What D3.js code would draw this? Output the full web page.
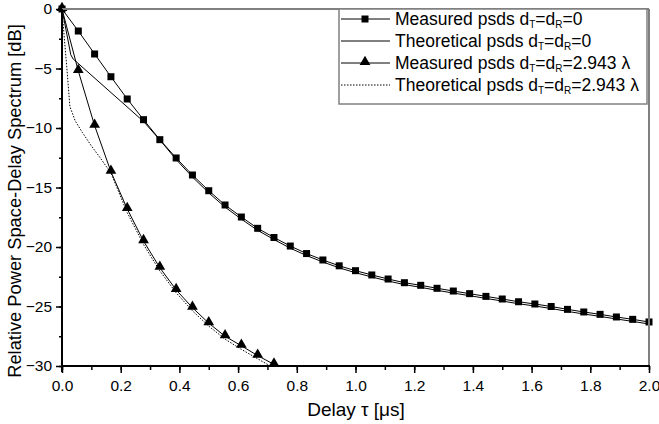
<!DOCTYPE html>
<html>
<head>
<meta charset="utf-8">
<script src="https://cdn.jsdelivr.net/npm/d3@7"></script>
<style>
  body { margin: 0; background: #fff; }
  text { font-family: "Liberation Sans", Arial, sans-serif; fill: #000; }
</style>
</head>
<body>
<svg id="chart" width="659" height="424"></svg>
<script>
// measured points sit on a 1/18 us grid
const measured0Y = [0, -1.85, -3.78, -5.69, -7.56, -9.3, -10.98, -12.52, -13.95, -15.27,
  -16.47, -17.48, -18.43, -19.2, -19.92, -20.55, -21.09, -21.58, -21.99, -22.35,
  -22.69, -23.0, -23.22, -23.47, -23.7, -23.92, -24.15, -24.37, -24.6, -24.79,
  -25.0, -25.24, -25.46, -25.66, -25.88, -26.08, -26.3];
const measured0X = measured0Y.map((d, i) => i / 18);

const theory0X = [0, 0.03, 0.038, 0.2778, 0.3333, 0.3889, 0.4444, 0.5, 0.5556, 0.6111,
  0.6667, 0.7222, 0.7778, 0.8333, 0.8889, 0.9444, 1.0, 1.0556, 1.1111, 1.1667,
  1.2222, 1.2778, 1.3333, 1.3889, 1.4444, 1.5, 1.5556, 1.6111, 1.6667, 1.7222,
  1.7778, 1.8333, 1.8889, 1.9444, 2.0];
const theory0Y = [0, -3.85, -4.2, -9.45, -11.0, -12.65, -14.12, -15.45, -16.65, -17.66,
  -18.6, -19.37, -20.1, -20.72, -21.26, -21.75, -22.16, -22.52, -22.86, -23.16,
  -23.39, -23.64, -23.87, -24.09, -24.32, -24.54, -24.77, -24.96, -25.17, -25.41,
  -25.63, -25.83, -26.05, -26.25, -26.47];

const measured2Y = [0, -5.21, -9.8, -13.67, -16.8, -19.5, -21.74, -23.6, -25.1, -26.4,
  -27.5, -28.3, -29.13, -29.86];
const measured2X = measured2Y.map((d, i) => i / 18);

const theory2X = [0, 0.008, 0.016, 0.027, 0.045, 0.07, 0.1, 0.13, 0.167, 0.222, 0.278,
  0.333, 0.389, 0.444, 0.5, 0.556, 0.611, 0.667, 0.71];
const theory2Y = [0, -2.5, -4.8, -8.2, -9.4, -10.4, -11.5, -12.5, -13.8, -17.1, -19.8,
  -22.0, -23.85, -25.35, -26.65, -27.75, -28.6, -29.4, -30];

const xTicks = [0, 0.2, 0.4, 0.6, 0.8, 1.0, 1.2, 1.4, 1.6, 1.8, 2.0];
const yTicks = [0, -5, -10, -15, -20, -25, -30];

const svg = d3.select("#chart");
const pLeft = 62, pRight = 649, pTop = 9, pBottom = 366;

const x = d3.scaleLinear().domain([0, 2]).range([pLeft, pRight]);
const y = d3.scaleLinear().domain([0, -30]).range([pTop, pBottom]);

const zip = (xs, ys) => xs.map((v, i) => [v, ys[i]]);
const line = d3.line().x(d => x(d[0])).y(d => y(d[1]));

const plot = svg.append("g");

plot.append("path").datum(zip(theory2X, theory2Y))
  .attr("d", line).attr("fill", "none").attr("stroke", "#000")
  .attr("stroke-width", 1).attr("stroke-dasharray", "1.5,1.5");

plot.append("path").datum(zip(theory0X, theory0Y))
  .attr("d", line).attr("fill", "none").attr("stroke", "#000").attr("stroke-width", 1);

plot.append("path").datum(zip(measured0X, measured0Y))
  .attr("d", line).attr("fill", "none").attr("stroke", "#000").attr("stroke-width", 1);

plot.append("path").datum(zip(measured2X, measured2Y))
  .attr("d", line).attr("fill", "none").attr("stroke", "#000").attr("stroke-width", 1);

const square = d3.symbol().type(d3.symbolSquare).size(49);
const triangle = d3.symbol().type(d3.symbolTriangle).size(50);

plot.selectAll(".sq").data(zip(measured0X, measured0Y)).enter().append("path")
  .attr("class", "sq").attr("d", square)
  .attr("transform", d => `translate(${x(d[0])},${y(d[1])})`);

plot.selectAll(".tri").data(zip(measured2X, measured2Y)).enter().append("path")
  .attr("class", "tri").attr("d", triangle)
  .attr("transform", d => `translate(${x(d[0])},${y(d[1]) - 1})`);

// frame: grey top/right
svg.append("line").attr("x1", pLeft).attr("x2", pRight).attr("y1", pTop).attr("y2", pTop)
  .attr("stroke", "#808080").attr("stroke-width", 2);
svg.append("line").attr("x1", pRight).attr("x2", pRight).attr("y1", pTop).attr("y2", pBottom)
  .attr("stroke", "#808080").attr("stroke-width", 2);

// x axis
const xAxis = svg.append("g").attr("transform", `translate(0,${pBottom})`);
xAxis.append("g")
  .call(d3.axisBottom(x).tickValues(d3.range(0, 2.001, 0.1)).tickSize(4).tickFormat(""))
  .call(g => g.select(".domain").remove())
  .call(g => g.selectAll("line").attr("stroke-width", 1.5));
xAxis.append("g")
  .call(d3.axisBottom(x).tickValues(xTicks).tickSize(7).tickFormat(d3.format(".1f")))
  .call(g => g.select(".domain").remove())
  .call(g => g.selectAll("line").attr("stroke-width", 1.5))
  .call(g => g.selectAll("text").attr("font-size", 15.5).attr("y", 11).attr("dy", "0.9em")
    .attr("font-family", "'Liberation Sans', Arial, sans-serif"));
svg.append("line").attr("x1", pLeft).attr("x2", pRight + 1).attr("y1", pBottom).attr("y2", pBottom)
  .attr("stroke", "#000").attr("stroke-width", 2);

// y axis
const yAxis = svg.append("g").attr("transform", `translate(${pLeft},0)`);
yAxis.append("g")
  .call(d3.axisLeft(y).tickValues(d3.range(0, -30.01, -2.5)).tickSize(3).tickFormat(""))
  .call(g => g.select(".domain").remove())
  .call(g => g.selectAll("line").attr("stroke-width", 1.5));
yAxis.append("g")
  .call(d3.axisLeft(y).tickValues(yTicks).tickSize(6).tickFormat(d3.format("d")))
  .call(g => g.select(".domain").remove())
  .call(g => g.selectAll("line").attr("stroke-width", 1.5))
  .call(g => g.selectAll("text").attr("font-size", 15.5).attr("x", -10)
    .attr("font-family", "'Liberation Sans', Arial, sans-serif"));
svg.append("line").attr("x1", pLeft).attr("x2", pLeft).attr("y1", pTop).attr("y2", pBottom + 6)
  .attr("stroke", "#000").attr("stroke-width", 2);

// axis titles
svg.append("text").attr("x", 356).attr("y", 416).attr("text-anchor", "middle")
  .attr("font-size", 19).text("Delay \u03c4 [\u03bcs]");
svg.append("text").attr("transform", "translate(21,201) rotate(-90)")
  .attr("text-anchor", "middle").attr("font-size", 18.3)
  .text("Relative Power Space-Delay Spectrum [dB]");

// legend
const legend = svg.append("g");
legend.append("rect").attr("x", 339).attr("y", 9).attr("width", 308).attr("height", 95)
  .attr("fill", "#fff").attr("stroke", "#808080").attr("stroke-width", 1.5);

const legendRows = [
  { label: "Measured psds", tail: "=0", marker: "sq", dash: null },
  { label: "Theoretical psds", tail: "=0", marker: null, dash: null },
  { label: "Measured psds", tail: "=2.943 \u03bb", marker: "tri", dash: null },
  { label: "Theoretical psds", tail: "=2.943 \u03bb", marker: null, dash: "1.5,1.5" }
];

legendRows.forEach((r, i) => {
  const row = legend.append("g").attr("transform", `translate(340,${19 + i * 22})`);
  row.append("line").attr("x1", 1).attr("x2", 50).attr("y1", 0).attr("y2", 0)
    .attr("stroke", "#000").attr("stroke-width", 1)
    .attr("stroke-dasharray", r.dash);
  if (r.marker === "sq") row.append("path").attr("d", square).attr("transform", "translate(25,0)");
  if (r.marker === "tri") row.append("path").attr("d", triangle).attr("transform", "translate(25,-1)");
  const t = row.append("text").attr("x", 55).attr("y", 6).attr("font-size", 17.5);
  t.append("tspan").text(r.label + " d");
  t.append("tspan").attr("font-size", 10).attr("dy", 3).text("T");
  t.append("tspan").attr("dy", -3).text("=d");
  t.append("tspan").attr("font-size", 10).attr("dy", 3).text("R");
  t.append("tspan").attr("dy", -3).text(r.tail);
});
</script>
</body>
</html>
